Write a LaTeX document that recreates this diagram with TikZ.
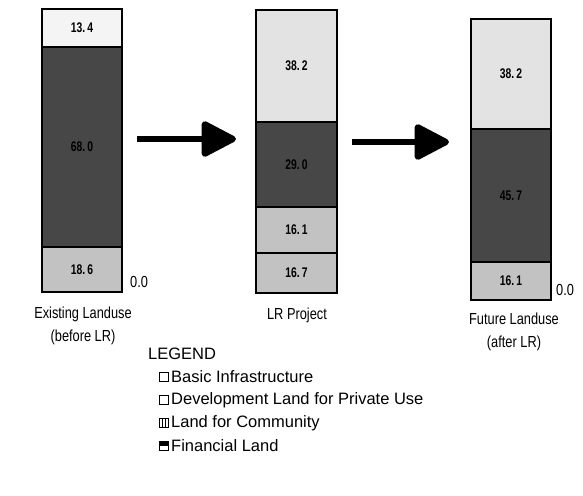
\documentclass[tikz,border=0pt]{standalone}
\usepackage{fontspec}
\setmainfont{Liberation Sans}
\newfontfamily\narrowsans[FakeStretch=0.8]{Liberation Sans}
\newfontfamily\condsans[FakeStretch=0.74]{Liberation Sans}
\usetikzlibrary{arrows.meta}
\definecolor{infra}{HTML}{F4F4F4}
\definecolor{basic}{HTML}{E3E3E3}
\definecolor{priv}{HTML}{474747}
\definecolor{commun}{HTML}{C2C2C2}
\begin{document}
\begin{tikzpicture}[x=1pt,y=-1pt,
  seg/.style={draw=black, line width=1.6pt, anchor=north west, inner sep=0pt,
    outer sep=0pt, font=\condsans\bfseries\fontsize{14}{16}\selectfont},
  seg1/.style={seg, minimum width=80pt},
  seg2/.style={seg, minimum width=81pt},
  zero/.style={anchor=south west, inner sep=0pt, font=\narrowsans\fontsize{16}{18}\selectfont},
  caption/.style={align=center, inner sep=0pt, font=\narrowsans\fontsize{16}{23}\selectfont},
  legtext/.style={anchor=west, inner sep=0pt, font=\fontsize{16.5}{18}\selectfont},
  legbox/.style={draw=black, line width=1.5pt, minimum width=9pt, minimum height=9pt,
    inner sep=0pt, anchor=center},
  bigarrow/.style={line width=6pt, -{Triangle[length=38pt,width=38pt,round]}}
]
\useasboundingbox (0,0) rectangle (583,495);

% existing land use
\node[seg1, fill=infra,  minimum height=38pt]  (c1a) at (42,9)   {13.\,4};
\node[seg1, fill=priv,   minimum height=200pt] (c1b) at (42,47)  {68.\,0};
\node[seg1, fill=commun, minimum height=45pt]  (c1c) at (42,247) {18.\,6};
\node[zero] (z1) at ([xshift=8pt,yshift=4pt]c1c.south east) {0.0};

% LR project
\node[seg2, fill=basic,  minimum height=112pt] (c2a) at (256,10)  {38.\,2};
\node[seg2, fill=priv,   minimum height=85pt]  (c2b) at (256,122) {29.\,0};
\node[seg2, fill=commun, minimum height=46pt]  (c2c) at (256,207) {16.\,1};
\node[seg2, fill=commun, minimum height=40pt]  (c2d) at (256,253) {16.\,7};

% future land use
\node[seg1, fill=basic,  minimum height=110pt] (c3a) at (471,19)  {38.\,2};
\node[seg1, fill=priv,   minimum height=133pt] (c3b) at (471,129) {45.\,7};
\node[seg1, fill=commun, minimum height=38pt]  (c3c) at (471,262) {16.\,1};
\node[zero] (z3) at ([xshift=5pt,yshift=4pt]c3c.south east) {0.0};

% transition arrows
\coordinate (a1s) at (137,139);
\coordinate (a1e) at (236,139);
\coordinate (a2s) at (352,142);
\coordinate (a2e) at (449,142);
\draw[bigarrow] (a1s) -- (a1e);
\draw[bigarrow] (a2s) -- (a2e);

% captions
\node[caption] (t1) at (83,326)  {Existing Landuse\\(before LR)};
\node[caption] (t2) at (297,315) {LR Project};
\node[caption] (t3) at (514,332) {Future Landuse\\(after LR)};

% legend
\node[legtext] (lg) at (148,354) {LEGEND};
\node[legbox, fill=white] (k1) at (164,377) {};
\node[legtext] (l1) at (171,377) {Basic Infrastructure};
\node[legbox, fill=white, line width=1.2pt] (k2) at (164,400) {};
\node[legtext] (l2) at (171,400) {Development Land for Private Use};
\node[legbox, fill=white] (k3) at (164,423) {};
\draw[line width=1.3pt] ([xshift=-1.4pt]k3.north) -- ([xshift=-1.4pt]k3.south)
  ([xshift=1.4pt]k3.north) -- ([xshift=1.4pt]k3.south);
\node[legtext] (l3) at (171,423) {Land for Community};
\node[legbox, fill=white] (k4) at (164,446) {};
\fill ([yshift=-0.5pt]k4.north west) rectangle (k4.east);
\node[legtext] (l4) at (171,446) {Financial Land};
\end{tikzpicture}
\end{document}
